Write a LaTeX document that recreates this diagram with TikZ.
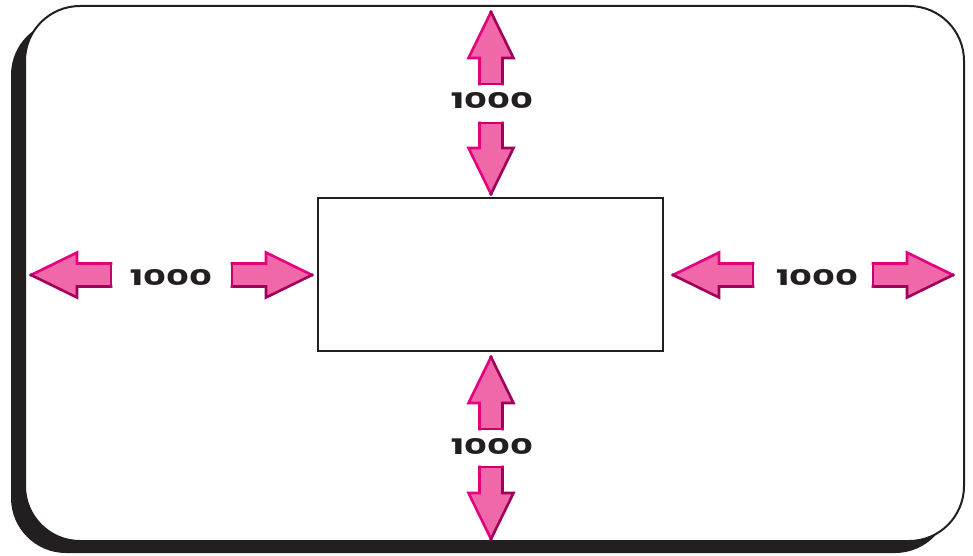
\documentclass[tikz,border=0pt]{standalone}
\usepackage{fontspec}
\usepackage{graphicx}
\newfontfamily\numfont{Poppins}
\definecolor{framek}{HTML}{231F20}
\definecolor{pinkfill}{HTML}{F068A8}
\definecolor{pinklight}{HTML}{E4007F}
\definecolor{pinkdark}{HTML}{A0005A}
\definecolor{pinkmid}{HTML}{C8006E}
\newcommand\pinkarrow[1]{%
  \fill[pinkfill] (-46-#1,11.5) -- (-46,11.5) -- (-46,22.5) -- (0,0) -- (-46,-22.5) -- (-46,-11.5) -- (-46-#1,-11.5) -- cycle;
  \draw[bevel, pinklight] (-46-#1,11.5) -- (-46,11.5) -- (-46,22.5) -- (0,0);
  \draw[bevel, pinkdark] (0,0) -- (-46,-22.5) -- (-46,-11.5) -- (-46-#1,-11.5);
  \draw[bevel, pinkmid] (-46-#1,-11.5) -- (-46-#1,11.5);
}
\newcommand\numtext{\resizebox{82pt}{16pt}{\numfont\bfseries 1000}}
\tikzset{
  bevel/.style={line width=2.6pt, line join=miter, line cap=rect},
  numlabel/.style={text=framek, inner sep=0pt},
  frameline/.style={draw=framek, line width=2pt},
}
\begin{document}
\begin{tikzpicture}[x=1pt,y=1pt]
\useasboundingbox (0,0) rectangle (973,555);
\fill[white] (0,0) rectangle (973,555);
% frame shadow and frame
\fill[framek, rounded corners=55pt] (11,2) rectangle (950,535);
\filldraw[fill=white, frameline, rounded corners=55pt] (25,14) rectangle (964,549);
% central rectangle
\node[frameline, minimum width=345pt, minimum height=153pt, inner sep=0pt, anchor=south west] (box) at (317,203) {};
% labels
\node[numlabel] (ltop) at (492,454) {\numtext};
\node[numlabel] (lbot) at (492,109) {\numtext};
\node[numlabel] (lleft) at (171,278) {\numtext};
\node[numlabel] (lright) at (817,278) {\numtext};
% top group
\begin{scope}[shift={(491,543)}, rotate=90]\pinkarrow{26}\end{scope}
\begin{scope}[shift={(491,361)}, yscale=-1, rotate=90]\pinkarrow{25}\end{scope}
% bottom group
\begin{scope}[shift={(491,198)}, rotate=90]\pinkarrow{26}\end{scope}
\begin{scope}[shift={(491,16)}, yscale=-1, rotate=90]\pinkarrow{26}\end{scope}
% left group
\begin{scope}[shift={(31,280)}, xscale=-1]\pinkarrow{34}\end{scope}
\begin{scope}[shift={(312,280)}]\pinkarrow{34}\end{scope}
% right group
\begin{scope}[shift={(673,280)}, xscale=-1]\pinkarrow{34}\end{scope}
\begin{scope}[shift={(953,280)}]\pinkarrow{34}\end{scope}
\end{tikzpicture}
\end{document}
